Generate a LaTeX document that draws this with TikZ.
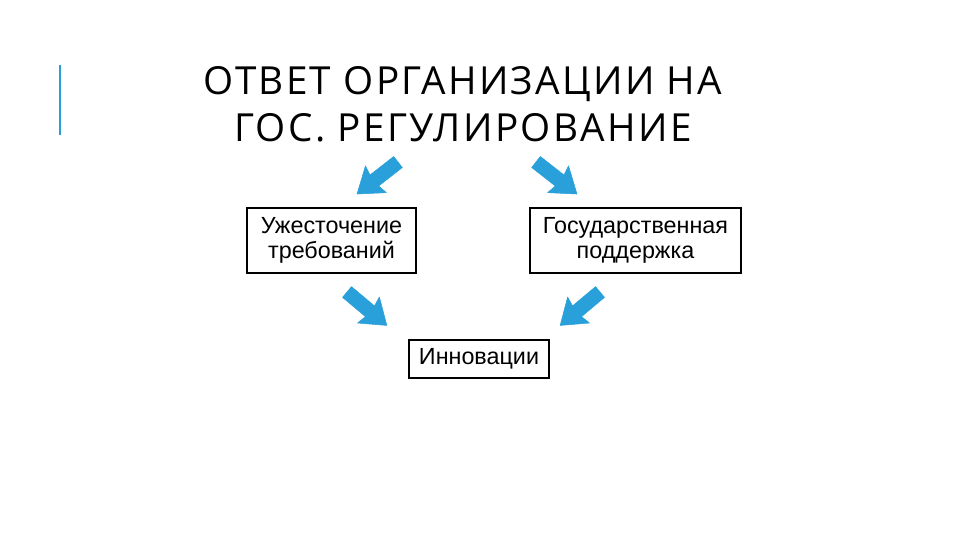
\documentclass[tikz,border=0pt]{standalone}
\usepackage{fontspec}
\setmainfont{Liberation Sans}
\newfontfamily\titlefont[LetterSpace=6]{Open Sans}
\definecolor{ablue}{RGB}{41,160,218}
\begin{document}
\begin{tikzpicture}[x=0.75pt,y=-0.75pt,
  box/.style={draw,line width=1.6pt,inner sep=0pt,font=\fontsize{17.5}{19}\selectfont,align=center},
  barrow/.style={fill=ablue,draw=ablue,line join=round}]
\useasboundingbox (0,0) rectangle (960,540);
\draw[line width=1.5pt,ablue] (60,65) -- (60,135);
\node[font=\titlefont\fontsize{29}{35}\selectfont,align=center] (title) at (463,104) {ОТВЕТ ОРГАНИЗАЦИИ НА\\ГОС. РЕГУЛИРОВАНИЕ};
\node[box,minimum width=169*0.75pt,minimum height=65*0.75pt] (b1) at (331.5,240.5) {Ужесточение\\требований};
\node[box,minimum width=211*0.75pt,minimum height=65*0.75pt] (b2) at (635.5,240.5) {Государственная\\поддержка};
\node[box,minimum width=140*0.75pt,minimum height=38*0.75pt] (b3) at (479,359) {Инновации};
\newcommand\barr[2]{\path[barrow,shift={#1},rotate=#2] (0,-7) -- (30,-7) -- (28,-17) -- (52,0) -- (28,17) -- (30,7) -- (0,7) -- cycle;}
\barr{(398,162)}{-142}
\barr{(536,162)}{-38}
\barr{(347,292)}{-40}
\barr{(600,292)}{-140}
\end{tikzpicture}
\end{document}
